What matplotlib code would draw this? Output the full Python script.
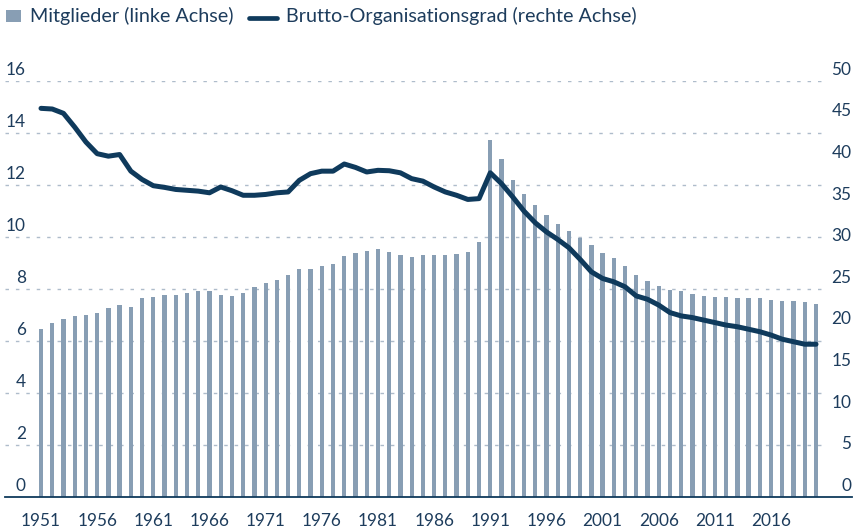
import matplotlib
matplotlib.use("Agg")
import matplotlib.pyplot as plt
import matplotlib.transforms as mtransforms
from matplotlib.patches import Rectangle
from matplotlib.lines import Line2D

# ---------------- data ----------------
years = list(range(1951, 2021))
members = [6.47, 6.70, 6.86, 6.97, 7.01, 7.09, 7.28, 7.40, 7.32, 7.67,
           7.71, 7.78, 7.78, 7.86, 7.93, 7.93, 7.78, 7.74, 7.86, 8.09,
           8.24, 8.36, 8.55, 8.78, 8.78, 8.90, 8.97, 9.28, 9.40, 9.47,
           9.55, 9.43, 9.32, 9.24, 9.32, 9.32, 9.32, 9.36, 9.43, 9.82,
           13.74, 13.01, 12.20, 11.67, 11.25, 10.86, 10.51, 10.24, 9.97, 9.70,
           9.40, 9.21, 8.90, 8.55, 8.32, 8.13, 7.98, 7.94, 7.82, 7.74,
           7.70, 7.70, 7.66, 7.66, 7.66, 7.59, 7.55, 7.55, 7.51, 7.44]
density = [46.75, 46.67, 46.15, 44.5, 42.7, 41.3, 41.0, 41.2, 39.2, 38.2,
           37.45, 37.25, 37.0, 36.9, 36.8, 36.6, 37.3, 36.85, 36.3, 36.3,
           36.4, 36.6, 36.7, 38.1, 38.9, 39.2, 39.2, 40.06, 39.65, 39.1,
           39.3, 39.25, 39.0, 38.3, 38.0, 37.3, 36.7, 36.3, 35.8, 35.9,
           39.0, 37.7, 36.1, 34.4, 33.0, 31.9, 31.0, 30.0, 28.6, 27.1,
           26.3, 25.9, 25.3, 24.2, 23.8, 23.1, 22.2, 21.8, 21.6, 21.3,
           21.0, 20.7, 20.5, 20.2, 19.9, 19.5, 19.0, 18.7, 18.4, 18.4]
left_ticks = [0, 2, 4, 6, 8, 10, 12, 14, 16]
right_ticks = [0, 5, 10, 15, 20, 25, 30, 35, 40, 45, 50]
xtick_years = [1951, 1956, 1961, 1966, 1971, 1976, 1981, 1986, 1991, 1996, 2001, 2006, 2011, 2016]
label_bars = "Mitglieder (linke Achse)"
label_line = "Brutto-Organisationsgrad (rechte Achse)"

# ---------------- style ----------------
W, H = 859, 529
DPI = 100
BAR_C = "#889eb4"
LINE_C = "#0f3a5c"
TEXT_C = "#1d3c5c"
GRID_C = "#aebccb"
FONT = "Lato"
TICK_FS = 12.4
LEG_FS = 14.2

plt.rcParams["font.family"] = [FONT, "DejaVu Sans"]

fig = plt.figure(figsize=(W / DPI, H / DPI), dpi=DPI)

def fx(px):
    return px / W

def fy(py):
    return 1 - py / H

ax_left, ax_right = 5, 852
ax_bottom, ax_top = 497.3, 81.3
ax = fig.add_axes([fx(ax_left), fy(ax_bottom), fx(ax_right - ax_left), (ax_bottom - ax_top) / H])
ppy = 11.232
ax.set_xlim(1951 - (41 - ax_left) / ppy, 1951 + (ax_right - 41) / ppy)
ax.set_ylim(0, 16)
ax.axis("off")

ax2 = ax.twinx()
ax2.set_ylim(0, 50)
ax2.axis("off")

# gridlines
grid_end = (822 - ax_left) / (ax_right - ax_left)
for t in left_ticks[1:]:
    ax.axhline(t, xmin=0, xmax=grid_end, color=GRID_C, lw=1.0,
               linestyle=(0, (2.5, 5)), zorder=0)

# bars
ax.bar(years, members, width=0.38, color=BAR_C, zorder=2)
# baseline
ax.axhline(0, xmin=0, xmax=1, color=LINE_C, lw=1.3, zorder=3, clip_on=False)
# line
ax2.plot(years, density, color=LINE_C, lw=3.6, solid_joinstyle="round",
         solid_capstyle="round", zorder=4, clip_on=False)
ax2.set_zorder(ax.get_zorder() + 1)

# left tick labels
off_up = mtransforms.ScaledTranslation(0, 6.5 / DPI, fig.dpi_scale_trans)
tl = mtransforms.blended_transform_factory(fig.transFigure, ax.transData) + off_up
for t in left_ticks:
    ax.text(fx(26), t, f"{t}", transform=tl, ha="right", va="baseline",
            fontsize=TICK_FS, color=TEXT_C)
tr = mtransforms.blended_transform_factory(fig.transFigure, ax2.transData) + off_up
for t in right_ticks:
    ax2.text(fx(851.5), t, f"{t}", transform=tr, ha="right", va="baseline",
             fontsize=TICK_FS, color=TEXT_C)
# x tick labels
off_dn = mtransforms.ScaledTranslation(0, -28.7 / DPI, fig.dpi_scale_trans)
tx = mtransforms.blended_transform_factory(ax.transData, ax.transData) + off_dn
for y in xtick_years:
    ax.text(y, 0, f"{y}", transform=tx, ha="center", va="baseline",
            fontsize=TICK_FS, color=TEXT_C)

# legend (manual)
fig.add_artist(Rectangle((fx(6), fy(22.0)), fx(15), 12.0 / H,
                         transform=fig.transFigure, color=BAR_C, lw=0))
fig.text(fx(29.5), fy(22.3), label_bars, ha="left", va="baseline",
         fontsize=LEG_FS, color=TEXT_C)
fig.add_artist(Line2D([fx(249), fx(276.5)], [fy(17.5), fy(17.5)],
                      transform=fig.transFigure, color=LINE_C, lw=3.4,
                      solid_capstyle="round"))
fig.text(fx(286), fy(22.3), label_line, ha="left", va="baseline",
         fontsize=LEG_FS, color=TEXT_C)

fig.savefig("out.png", dpi=DPI)
